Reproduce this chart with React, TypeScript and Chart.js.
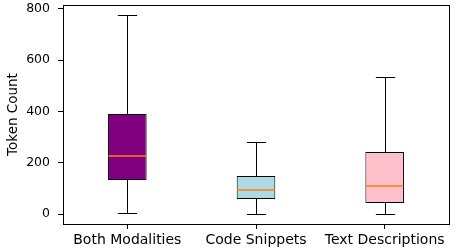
import React, { useEffect, useRef } from "react";
import { Chart, registerables } from "chart.js";

Chart.register(...registerables);

const categories = ["Both Modalities", "Code Snippets", "Text Descriptions"];
const whiskerLow = [4, 0, 0];
const q1 = [133, 59, 43];
const medians = [226, 94, 109];
const q3 = [390, 148, 242];
const whiskerHigh = [776, 281, 535];
const boxColors = ["#800080", "#add8e6", "#ffc0cb"];
const yTicks = [0, 200, 400, 600, 800];

const FONT = "'DejaVu Sans', sans-serif";

const boxPlugin = {
  id: "boxExtras",
  beforeDatasetsDraw(chart: any) {
    const { ctx, scales } = chart;
    const x = scales.x;
    const y = scales.y;
    const meta = chart.getDatasetMeta(0);
    ctx.save();
    ctx.strokeStyle = "#000";
    ctx.lineWidth = 1;
    categories.forEach((_, i) => {
      const cx = Math.round(x.getPixelForValue(i)) + 0.5;
      const bw = meta.data[i].width;
      const capHalf = bw / 4;
      const yl = Math.round(y.getPixelForValue(whiskerLow[i])) + 0.5;
      const yh = Math.round(y.getPixelForValue(whiskerHigh[i])) + 0.5;
      const y1 = y.getPixelForValue(q1[i]);
      const y3 = y.getPixelForValue(q3[i]);
      ctx.beginPath();
      ctx.moveTo(cx, yl);
      ctx.lineTo(cx, y1);
      ctx.moveTo(cx, y3);
      ctx.lineTo(cx, yh);
      ctx.moveTo(cx - capHalf, yl);
      ctx.lineTo(cx + capHalf, yl);
      ctx.moveTo(cx - capHalf, yh);
      ctx.lineTo(cx + capHalf, yh);
      ctx.stroke();
    });
    ctx.restore();
  },
  afterDatasetsDraw(chart: any) {
    const { ctx, scales, chartArea } = chart;
    const x = scales.x;
    const y = scales.y;
    const meta = chart.getDatasetMeta(0);
    ctx.save();
    ctx.strokeStyle = "#ff7f0e";
    ctx.lineWidth = 1.5;
    categories.forEach((_, i) => {
      const cx = x.getPixelForValue(i);
      const bw = meta.data[i].width;
      const ym = y.getPixelForValue(medians[i]);
      ctx.beginPath();
      ctx.moveTo(cx - bw / 2 + 0.5, ym);
      ctx.lineTo(cx + bw / 2 - 0.5, ym);
      ctx.stroke();
    });
    ctx.strokeStyle = "#000";
    ctx.lineWidth = 1;
    ctx.strokeRect(
      Math.round(chartArea.left) + 0.5,
      Math.round(chartArea.top) + 0.5,
      Math.round(chartArea.right - chartArea.left),
      Math.round(chartArea.bottom - chartArea.top)
    );
    ctx.restore();
  },
};

export default function App() {
  const canvasRef = useRef<HTMLCanvasElement | null>(null);

  useEffect(() => {
    if (!canvasRef.current) return;
    const chart = new Chart(canvasRef.current, {
      type: "bar",
      data: {
        labels: categories,
        datasets: [
          {
            data: categories.map((_, i) => [q1[i], q3[i]]) as any,
            backgroundColor: boxColors,
            borderColor: "#000",
            borderWidth: 1,
            borderSkipped: false,
            categoryPercentage: 1,
            barPercentage: 0.3,
          },
        ],
      },
      options: {
        animation: false,
        responsive: false,
        maintainAspectRatio: false,
        layout: { padding: { top: 5, right: 6, left: 0, bottom: 0 } },
        plugins: {
          legend: { display: false },
          tooltip: { enabled: false },
        },
        scales: {
          x: {
            type: "category",
            offset: true,
            border: { display: false },
            grid: {
              drawOnChartArea: false,
              drawTicks: true,
              tickLength: 5,
              color: "#000",
              offset: false,
            },
            ticks: {
              color: "#000",
              font: { family: FONT, size: 14 },
              padding: 3,
              maxRotation: 0,
              autoSkip: false,
            },
            afterFit: (s: any) => {
              s.height = 26;
              s.paddingLeft = 0;
              s.paddingRight = 0;
              s.paddingTop = 0;
              s.paddingBottom = 0;
            },
          },
          y: {
            type: "linear",
            min: -38.8,
            max: 814.8,
            border: { display: false },
            grid: {
              drawOnChartArea: false,
              drawTicks: true,
              tickLength: 5,
              color: "#000",
            },
            afterBuildTicks: (s: any) => {
              s.ticks = yTicks.map((v) => ({ value: v }));
            },
            ticks: {
              color: "#000",
              font: { family: FONT, size: 12.5 },
              padding: 8,
            },
            title: {
              display: true,
              text: "Token Count",
              color: "#000",
              font: { family: FONT, size: 13.5 },
              padding: { top: 5, bottom: 4 },
            },
            afterFit: (s: any) => {
              s.width = 63;
              s.paddingLeft = 0;
              s.paddingRight = 0;
              s.paddingTop = 0;
              s.paddingBottom = 0;
            },
          },
        },
      },
      plugins: [boxPlugin],
    });
    return () => chart.destroy();
  }, []);

  return (
    <div style={{ position: "fixed", left: 0, top: 0, width: 455, height: 250, background: "#fff" }}>
      <canvas ref={canvasRef} width={455} height={250} style={{ width: 455, height: 250 }} />
    </div>
  );
}
